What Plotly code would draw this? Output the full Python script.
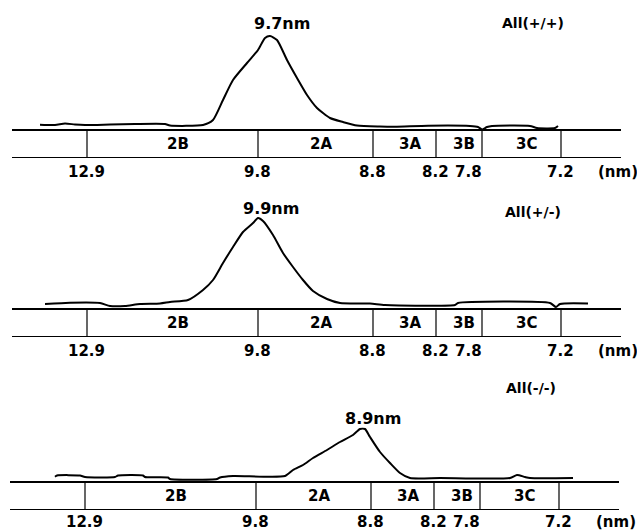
import plotly.graph_objects as go

# ---------------- data ----------------
# band boundaries on the mobility axis (arbitrary migration units) and their nm labels
boundary_mobility = [87, 258, 373, 436, 482, 561]
boundary_nm = ["12.9", "9.8", "8.8", "8.2", "7.8", "7.2"]
band_names = ["2B", "2A", "3A", "3B", "3C"]

genotypes = ["All(+/+)", "All(+/-)", "All(-/-)"]
peak_labels = ["9.7nm", "9.9nm", "8.9nm"]
peak_mobility = [270, 259, 363]

# densitometric scans (mobility, density)
mob_pp = [40, 55, 65, 75, 85, 110, 135, 165, 170, 203, 213, 223, 233, 247, 258, 265, 270,
          277, 287, 297, 307, 317, 330, 343, 357, 380, 395, 428, 470, 478, 482, 487, 492,
          530, 537, 555, 558]
den_pp = [5.3, 5, 6.5, 5.5, 5, 5.5, 6, 6, 4.5, 5, 10, 30, 50, 67, 80, 92, 94,
          90, 70, 52, 35, 22, 12, 8, 4.5, 3.5, 3.3, 4.3, 4, 3, 0.5, 3, 4,
          4, 2, 2, 4]

mob_pm = [45, 70, 100, 110, 125, 140, 160, 170, 188, 203, 213, 223, 233, 243, 253, 258,
          263, 273, 283, 293, 303, 313, 327, 340, 370, 385, 455, 458, 550, 556, 560, 588]
den_pm = [5, 6.3, 6, 3, 3, 5, 5.5, 7, 9, 19, 29, 46, 62, 77, 86, 91,
          88, 74, 56, 42, 29, 18, 10, 6, 5.5, 4, 4, 6, 6, 2, 5, 5.5]

mob_mm = [57, 59, 82, 87, 117, 120, 145, 147, 170, 172, 219, 222, 235, 287, 295, 305, 315,
          329, 342, 355, 362, 367, 372, 382, 392, 402, 412, 442, 512, 519, 527, 532, 575]
den_mm = [5.3, 6.5, 6.5, 5, 5, 6.5, 6.5, 5, 4.5, 3, 3, 4.5, 6, 6, 12, 17, 24,
          32, 40, 47, 53, 53, 45, 30, 19, 9, 4, 4, 4, 7, 5, 4, 4]

scans_mob = [mob_pp, mob_pm, mob_mm]
scans_den = [den_pp, den_pm, den_mm]

# ---------------- layout / style ----------------
H = 531
FONT = "DejaVu Sans"
BOX_DEPTH = 28
panel_bottom_px = [158, 337, 510]
panel_height_px = 150
x_ranges = [[0, 637], [0, 637], [2, 637]]
x_domains = [[0, 1], [0, 1], [0, 1 - 2 / 637]]
line_span = [12, 621]
peak_label_h = [107, 101, 64]
geno_label_h = [107, 97, 94]
tick_label_shift = [-14, -14, -12]

fig = go.Figure()
shapes = []
annotations = []

for i in range(3):
    n = "" if i == 0 else str(i + 1)
    xa, ya = "x" + n, "y" + n
    fig.add_trace(go.Scatter(
        x=scans_mob[i], y=scans_den[i], mode="lines",
        line=dict(color="black", width=2, shape="spline", smoothing=0.6),
        xaxis=xa, yaxis=ya, showlegend=False, hoverinfo="skip"))

    bottom = panel_bottom_px[i]
    top = bottom - panel_height_px
    fig.layout["xaxis" + n] = dict(domain=x_domains[i], range=x_ranges[i], visible=False,
                                   anchor=ya, fixedrange=True)
    fig.layout["yaxis" + n] = dict(domain=[1 - bottom / H, 1 - top / H],
                                   range=[-BOX_DEPTH, panel_height_px - BOX_DEPTH],
                                   visible=False, anchor=xa, fixedrange=True)

    # band box: two horizontal rules and the dividers
    for yv in (0, -BOX_DEPTH):
        shapes.append(dict(type="line", xref=xa, yref=ya, x0=line_span[0], x1=line_span[1],
                           y0=yv, y1=yv, line=dict(color="black", width=2)))
    for xb in boundary_mobility:
        shapes.append(dict(type="line", xref=xa, yref=ya, x0=xb, x1=xb, y0=0, y1=-BOX_DEPTH,
                           line=dict(color="black", width=1.2)))

    # band names
    for j, name in enumerate(band_names):
        xm = (boundary_mobility[j] + boundary_mobility[j + 1]) / 2
        annotations.append(dict(xref=xa, yref=ya, x=xm, y=-BOX_DEPTH / 2, text="<b>%s</b>" % name,
                                showarrow=False, xanchor="center", yanchor="middle", xshift=5,
                                yshift=0, font=dict(family=FONT, size=15, color="black")))

    # nm tick labels
    for xb, lab in zip(boundary_mobility, boundary_nm):
        anchor = "right" if lab == "7.8" else "center"
        annotations.append(dict(xref=xa, yref=ya, x=xb, y=-BOX_DEPTH, text="<b>%s</b>" % lab,
                                showarrow=False, xanchor=anchor, yanchor="middle",
                                yshift=tick_label_shift[i],
                                xshift=2 if anchor == "right" else -1,
                                font=dict(family=FONT, size=15, color="black")))
    annotations.append(dict(xref=xa, yref=ya, x=line_span[1] - 3, y=-BOX_DEPTH, text="<b>(nm)</b>",
                            showarrow=False, xanchor="center", yanchor="middle",
                            yshift=tick_label_shift[i],
                            font=dict(family=FONT, size=15, color="black")))

    # peak label and genotype label
    annotations.append(dict(xref=xa, yref=ya, x=peak_mobility[i] + 12, y=peak_label_h[i],
                            text="<b>%s</b>" % peak_labels[i], showarrow=False,
                            xanchor="center", yanchor="middle",
                            font=dict(family=FONT, size=16, color="black")))
    annotations.append(dict(xref=xa, yref=ya, x=533, y=geno_label_h[i],
                            text="<b>%s</b>" % genotypes[i], showarrow=False,
                            xanchor="center", yanchor="middle",
                            font=dict(family=FONT, size=14, color="black")))

fig.update_layout(width=637, height=531, margin=dict(l=0, r=0, t=0, b=0),
                  paper_bgcolor="white", plot_bgcolor="white",
                  shapes=shapes, annotations=annotations, showlegend=False)

fig.write_html("out.html", config={"displayModeBar": False},
               post_script="document.body.style.margin='0';document.body.style.overflow='hidden';")
